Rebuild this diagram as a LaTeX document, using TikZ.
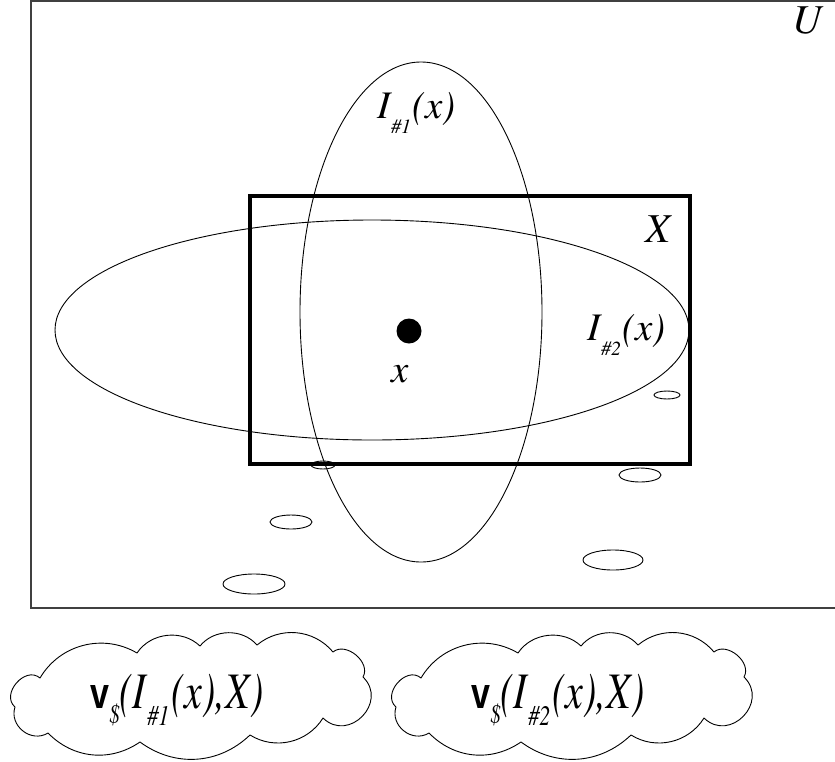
\documentclass[tikz,border=0pt]{standalone}
\usepackage{fontspec}
\newfontfamily\tms{texgyretermes}[Extension=.otf, UprightFont=*-regular, ItalicFont=*-italic, BoldFont=*-bold]
\newfontfamily\arl{Liberation Sans}
\newcommand\mylab[1]{{\tms\itshape I\hspace{1pt}\raisebox{-15pt}{\fontsize{20}{20}\selectfont\##1}\hspace{1pt}(x)}}
\newcommand\mycloudtxt[1]{\scalebox{1}[1.28]{{\arl\bfseries\fontsize{34}{36}\selectfont v}{\tms\itshape\raisebox{-12pt}{\fontsize{21}{21}\selectfont\$}(I\hspace{1pt}\raisebox{-14pt}{\fontsize{22}{22}\selectfont\##1}\hspace{2pt}(x),X)}}}
\tikzset{
  thinline/.style={line width=0.9pt},
  ubox/.style={line width=1.2pt, draw=black!75},
  xbox/.style={line width=4.5pt},
  lab/.style={inner sep=0pt, font=\fontsize{39}{42}\selectfont},
  bigl/.style={inner sep=0pt, font=\fontsize{41}{44}\selectfont},
  ctext/.style={inner sep=0pt, font=\fontsize{40}{44}\selectfont},
  mycloud/.pic={
    \draw[thinline, line join=round]
      (-149,-17) to[bend left=45] (-52,-42)
      to[bend left=50] (11,-49)
      to[bend left=50] (68,-50)
      to[bend left=45] (144,-43)
      to[bend left=80, looseness=1.1] (174,-18)
      to[bend left=90, looseness=1.6] (134,23)
      to[bend left=45] (61,40)
      to[bend left=40] (-49,47)
      to[bend left=40] (-141,38)
      to[bend left=70, looseness=1.2] (-174,12)
      to[bend left=90, looseness=1.3] cycle;
  }
}
\begin{document}
\begin{tikzpicture}[x=1pt,y=-1pt]
\useasboundingbox (0,0) rectangle (835,761);
\begin{scope}
\clip (0,0) rectangle (835,761);
\draw[ubox] (31,1) rectangle (870,608);
\end{scope}
% ellipses
\draw[thinline] (421,312) ellipse [x radius=121, y radius=250];
\draw[thinline] (372,330) ellipse [x radius=317, y radius=110];
% X box
\draw[xbox] (250,196) rectangle (690,464);
% small ellipses
\draw[thinline] (323,465) ellipse [x radius=12, y radius=4];
\draw[thinline] (667,395) ellipse [x radius=13, y radius=4];
\draw[thinline] (640,475) ellipse [x radius=21, y radius=7];
\draw[thinline] (291,522) ellipse [x radius=21, y radius=7];
\draw[thinline] (613,560) ellipse [x radius=30, y radius=10];
\draw[thinline] (254,584) ellipse [x radius=31, y radius=10];
% dot
\fill (409,331) circle [radius=12.5];
% labels
\node[lab, anchor=base west] (i1) at (377,118) {\mylab{1}};
\node[lab, anchor=base west] (i2) at (587,340) {\mylab{2}};
\node[bigl, anchor=base west] (xl) at (645,242) {\tms\itshape X};
\node[bigl, anchor=base west] (ul) at (792,33) {\tms\itshape U};
\node[lab, anchor=base west] (xs) at (391,382) {\tms\itshape x};
% clouds
\pic at (189,695) {mycloud};
\pic at (570,695) {mycloud};
\node[ctext, anchor=base west] (c1) at (90,708) {\mycloudtxt{1}};
\node[ctext, anchor=base west] (c2) at (471,708) {\mycloudtxt{2}};
\end{tikzpicture}
\end{document}
